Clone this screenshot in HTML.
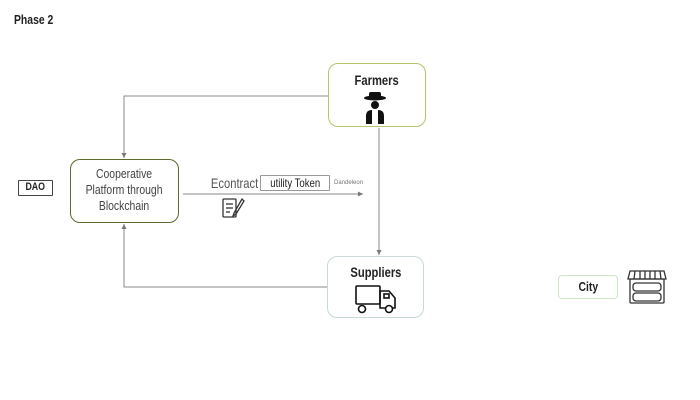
<!DOCTYPE html>
<html><head><style>
body{margin:0;width:700px;height:400px;background:#fff;position:relative;overflow:hidden;font-family:"Liberation Sans",sans-serif;color:#222}
.a{position:absolute}
.box{position:absolute;box-sizing:border-box;border-radius:10px;background:transparent}
.t{position:absolute;white-space:nowrap}
.n{display:inline-block;transform:scaleX(0.8);transform-origin:center}
</style></head><body>
<div class="t" style="left:14px;top:12px;font-size:13px;font-weight:bold"><span class="n" style="transform-origin:left">Phase 2</span></div>

<div class="box" style="left:18px;top:180px;width:35px;height:16px;border:1px solid #444;border-radius:1px"></div>
<div class="t" style="left:18px;top:181px;width:35px;text-align:center;font-size:11px;font-weight:bold"><span class="n">DAO</span></div>

<div class="box" style="left:70px;top:159px;width:109px;height:64px;border:1.5px solid #5b6a2e"></div>
<div class="t" style="left:70px;top:166px;width:109px;text-align:center;font-size:13px;line-height:16px;color:#444"><span class="n">Cooperative<br>Platform through<br>Blockchain</span></div>

<div class="box" style="left:328px;top:63px;width:98px;height:64px;border:1.5px solid #b5c46a"></div>
<div class="t" style="left:328px;top:72px;width:98px;text-align:center;font-size:14px;font-weight:bold"><span class="n">Farmers</span></div>

<div class="box" style="left:327px;top:256px;width:97px;height:62px;border:1.5px solid #c9d9d9"></div>
<div class="t" style="left:327px;top:264px;width:97px;text-align:center;font-size:14px;font-weight:bold"><span class="n">Suppliers</span></div>

<div class="t" style="left:205px;top:175px;width:56px;text-align:center;font-size:14px;color:#555"><span class="n">Econtract</span></div>
<div class="box" style="left:260px;top:175px;width:70px;height:16px;border:1px solid #999;border-radius:1px"></div>
<div class="t" style="left:260px;top:176px;width:70px;text-align:center;font-size:12px"><span class="n">utility Token</span></div>
<div class="t" style="left:334px;top:180px;font-size:6px;color:#777">Dandeleon</div>

<div class="box" style="left:558px;top:275px;width:60px;height:24px;border:1px solid #cfe6c6;border-radius:4px"></div>
<div class="t" style="left:558px;top:279px;width:60px;text-align:center;font-size:13px;font-weight:bold"><span class="n">City</span></div>

<svg class="a" style="left:0;top:0" width="700" height="400">
<defs><marker id="ar" markerWidth="6" markerHeight="6" refX="5" refY="3" orient="auto"><path d="M0,0.5 L5,3 L0,5.5z" fill="#777"/></marker></defs>
<g stroke="#888" stroke-width="1" fill="none">
<path d="M328,96 H124 V158" marker-end="url(#ar)"/>
<path d="M327,287 H124 V224" marker-end="url(#ar)"/>
<path d="M379,128 V255" marker-end="url(#ar)"/>
<path d="M183,194 H363" marker-end="url(#ar)"/>
</g>
<g stroke="#333" stroke-width="1.3" fill="none">
<rect x="223" y="199" width="13" height="18" rx="1"/>
<line x1="226" y1="204" x2="233" y2="204"/><line x1="226" y1="208" x2="233" y2="208"/><line x1="226" y1="212" x2="230" y2="212"/>
<path d="M242,199 L234,213 L233,216 L236,214 L244,201z"/>
</g>
<g fill="#111">
<ellipse cx="375" cy="98" rx="11" ry="2.5"/>
<rect x="369" y="92" width="12" height="6" rx="2"/>
<circle cx="375" cy="105" r="4"/>
<path d="M366,124 V116 Q366,110 372,110 L372,124z M384,124 V116 Q384,110 378,110 L378,124z"/>
</g>
<g stroke="#111" stroke-width="1.6" fill="none">
<rect x="356" y="286" width="24" height="18" rx="1"/>
<path d="M380,291 H389 L395,298 V308 H380z"/>
<rect x="384" y="294" width="5" height="4"/>
<circle cx="362" cy="309" r="3.5" fill="#fff"/>
<circle cx="389" cy="309" r="3.5" fill="#fff"/>
</g>
<g stroke="#333" stroke-width="1.3" fill="none">
<path d="M630,271 H664 L666,279 H628z"/>
<line x1="635" y1="271" x2="634" y2="279"/><line x1="640" y1="271" x2="640" y2="279"/><line x1="645" y1="271" x2="645" y2="279"/><line x1="650" y1="271" x2="650" y2="279"/><line x1="655" y1="271" x2="655" y2="279"/><line x1="660" y1="271" x2="661" y2="279"/>
<rect x="630" y="279" width="34" height="24" rx="1"/>
<rect x="633" y="283" width="28" height="8" rx="3"/>
<rect x="633" y="293" width="28" height="8" rx="3"/>
</g>
</svg>
</body></html>
